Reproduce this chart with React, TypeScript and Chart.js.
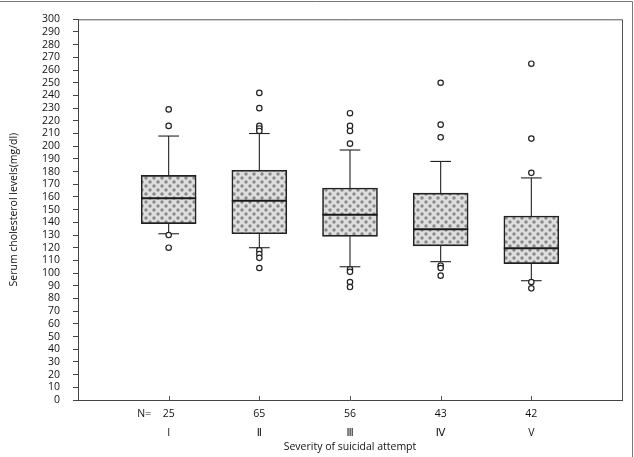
import React, { useEffect, useRef } from "react";
import { Chart, registerables } from "chart.js";

Chart.register(...registerables);

// Severity groups and their sample sizes
const groups = ["I", "Ⅱ", "Ⅲ", "Ⅳ", "V"];
const counts = [25, 65, 56, 43, 42];

// Five-number summaries of serum cholesterol (mg/dl) per group
const lowerWhisker = [131, 120, 105, 109, 94];
const quartile1 = [139, 131, 129, 121.5, 107.5];
const medians = [159, 157, 146, 134.5, 119.5];
const quartile3 = [177, 181, 167, 163, 145];
const upperWhisker = [208, 210, 197, 188, 175];

// Outlying observations per group
const outliers = [
  [229, 216, 130, 120],
  [242, 230, 216, 214, 212, 118, 115, 112, 104],
  [226, 216, 212, 202, 103, 101, 93, 89],
  [250, 217, 207, 106, 104, 98],
  [265, 206, 179, 93, 88],
];

const yTickStep = 10;
const nLabelPosition = 0.73;

const FONT = "'Open Sans', 'DejaVu Sans', sans-serif";

// Soft dotted fill used inside the boxes
function makeHatch(ctx: CanvasRenderingContext2D): CanvasPattern | string {
  const size = 8;
  const tile = document.createElement("canvas");
  tile.width = size;
  tile.height = size;
  const t = tile.getContext("2d");
  if (!t) return "#bdbdbd";
  t.fillStyle = "#dedede";
  t.fillRect(0, 0, size, size);
  const dots = [
    [2, 2],
    [6, 6],
  ];
  for (const [x, y] of dots) {
    const g = t.createRadialGradient(x, y, 0, x, y, 2.4);
    g.addColorStop(0, "#7c7c7c");
    g.addColorStop(0.6, "#9a9a9a");
    g.addColorStop(1, "rgba(222,222,222,0)");
    t.fillStyle = g;
    t.beginPath();
    t.arc(x, y, 2.4, 0, Math.PI * 2);
    t.fill();
  }
  return ctx.createPattern(tile, "repeat") || "#bdbdbd";
}

const boxDetails = {
  id: "boxDetails",
  beforeDatasetsDraw(chart: any) {
    const { ctx } = chart;
    const xs = chart.scales.x;
    const ys = chart.scales.y;
    const capHalf = 0.114;
    ctx.save();
    ctx.strokeStyle = "#222";
    ctx.lineWidth = 1.1;
    groups.forEach((_, i) => {
      const c = i + 1;
      const xc = xs.getPixelForValue(c);
      const xl = xs.getPixelForValue(c - capHalf);
      const xr = xs.getPixelForValue(c + capHalf);
      const pairs = [
        [quartile3[i], upperWhisker[i]],
        [quartile1[i], lowerWhisker[i]],
      ];
      for (const [from, to] of pairs) {
        ctx.beginPath();
        ctx.moveTo(xc, ys.getPixelForValue(from));
        ctx.lineTo(xc, ys.getPixelForValue(to));
        ctx.stroke();
        ctx.beginPath();
        ctx.moveTo(xl, ys.getPixelForValue(to));
        ctx.lineTo(xr, ys.getPixelForValue(to));
        ctx.stroke();
      }
    });
    ctx.restore();
  },
  afterDatasetDraw(chart: any, args: any) {
    if (args.index !== 0) return;
    const { ctx } = chart;
    const ys = chart.scales.y;
    const meta = chart.getDatasetMeta(0);
    ctx.save();
    ctx.strokeStyle = "#1a1a1a";
    ctx.lineWidth = 2;
    meta.data.forEach((bar: any, i: number) => {
      const half = bar.width / 2;
      const y = ys.getPixelForValue(medians[i]);
      ctx.beginPath();
      ctx.moveTo(bar.x - half, y);
      ctx.lineTo(bar.x + half, y);
      ctx.stroke();
    });
    ctx.restore();
  },
  afterDraw(chart: any) {
    const { ctx, chartArea } = chart;
    const xs = chart.scales.x;
    ctx.save();
    ctx.strokeStyle = "#555";
    ctx.lineWidth = 1;
    // plot frame: top and right edges
    ctx.beginPath();
    ctx.moveTo(chartArea.left, chartArea.top + 0.5);
    ctx.lineTo(chartArea.right + 0.5, chartArea.top + 0.5);
    ctx.lineTo(chartArea.right + 0.5, chartArea.bottom);
    ctx.stroke();
    // inward tick marks on the category axis
    groups.forEach((_, i) => {
      const x = Math.round(xs.getPixelForValue(i + 1)) + 0.5;
      ctx.beginPath();
      ctx.moveTo(x, chartArea.bottom);
      ctx.lineTo(x, chartArea.bottom - 4);
      ctx.stroke();
    });
    // outer figure border
    ctx.strokeStyle = "#777";
    ctx.beginPath();
    ctx.moveTo(0, 1.5);
    ctx.lineTo(632.5, 1.5);
    ctx.lineTo(632.5, chart.height);
    ctx.stroke();
    ctx.restore();
  },
};

export default function App() {
  const canvasRef = useRef<HTMLCanvasElement | null>(null);

  useEffect(() => {
    const canvas = canvasRef.current;
    if (!canvas) return;
    const ctx = canvas.getContext("2d");
    if (!ctx) return;
    const hatch = makeHatch(ctx);

    const boxData = groups.map((_, i) => ({ x: i + 1, y: [quartile1[i], quartile3[i]] }));
    const outlierData = outliers.flatMap((vals, i) => vals.map((v) => ({ x: i + 1, y: v })));

    const chart = new Chart(ctx, {
      type: "bar",
      data: {
        datasets: [
          {
            type: "bar",
            data: boxData as any,
            backgroundColor: hatch as any,
            borderColor: "#222",
            borderWidth: 1.6,
            borderSkipped: false,
            barThickness: 55,
          },
          {
            type: "scatter",
            data: outlierData as any,
            pointRadius: 2.7,
            pointBackgroundColor: "#fff",
            pointBorderColor: "#222",
            pointBorderWidth: 1.2,
            showLine: false,
          } as any,
        ],
      },
      options: {
        animation: false,
        responsive: false,
        layout: { padding: { top: 13, right: 12, left: 0, bottom: 0 } },
        plugins: {
          legend: { display: false },
          tooltip: { enabled: false },
        },
        scales: {
          x: {
            type: "linear",
            min: 0,
            max: 6,
            offset: false,
            grid: { display: false, drawTicks: false },
            border: { display: true, color: "#444", width: 1 },
            afterBuildTicks: (scale: any) => {
              scale.ticks = [nLabelPosition, ...groups.map((_, i) => i + 1)].map((v) => ({ value: v }));
            },
            afterFit: (scale: any) => {
              scale.height = 57;
            },
            ticks: {
              autoSkip: false,
              maxRotation: 0,
              padding: 5,
              color: "#111",
              font: { family: FONT, size: 10.5, lineHeight: 1.75 },
              callback: (value: any) => {
                const v = Number(value);
                if (Math.abs(v - nLabelPosition) < 1e-6) return "N=";
                const i = Math.round(v) - 1;
                return [String(counts[i]), groups[i]];
              },
            },
            title: {
              display: true,
              text: "Severity of suicidal attempt",
              color: "#111",
              font: { family: FONT, size: 10.5 },
              padding: { top: 0, bottom: 4 },
            },
          },
          y: {
            type: "linear",
            min: 0,
            max: 300,
            grid: { drawOnChartArea: false, drawTicks: true, tickLength: 5, color: "#444" },
            border: { display: true, color: "#444", width: 1 },
            afterFit: (scale: any) => {
              scale.width = 78;
            },
            ticks: {
              stepSize: yTickStep,
              autoSkip: false,
              padding: 13,
              color: "#111",
              font: { family: FONT, size: 10.5 },
            },
            title: {
              display: true,
              text: "Serum cholesterol levels(mg/dl)",
              color: "#111",
              font: { family: FONT, size: 10.5 },
              padding: { top: 8, bottom: 0 },
            },
          },
        },
      },
      plugins: [boxDetails],
    });

    return () => chart.destroy();
  }, []);

  return (
    <div style={{ position: "fixed", left: 0, top: 0, width: 634, height: 457, background: "#fff" }}>
      <canvas ref={canvasRef} width={634} height={457} />
    </div>
  );
}
